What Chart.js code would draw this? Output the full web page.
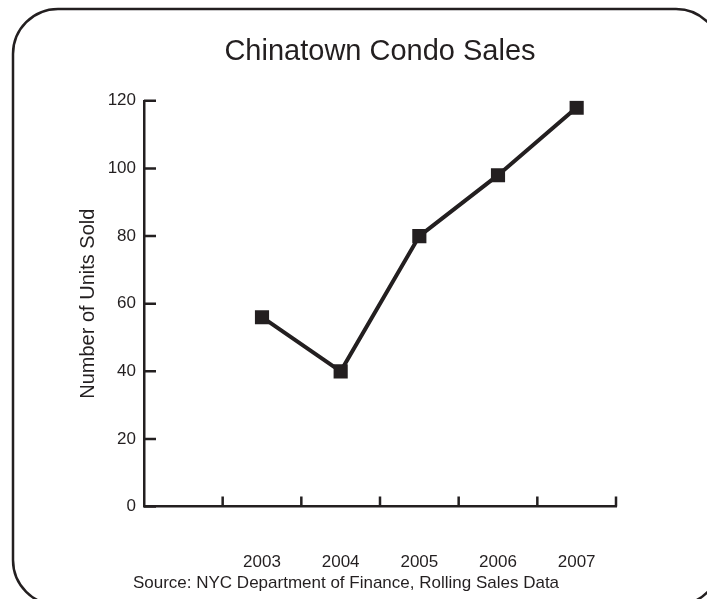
<!DOCTYPE html>
<html>
<head>
<meta charset="utf-8">
<script src="https://cdn.jsdelivr.net/npm/chart.js@4.4.0/dist/chart.umd.min.js"></script>
<style>
  body { margin: 0; background: #fff; }
</style>
</head>
<body>
<canvas id="lineChart" width="707" height="599"></canvas>
<script>
var years = ["", "2003", "2004", "2005", "2006", "2007"];
var unitsSold = [null, 56, 40, 80, 98, 118];
var yTicks = [0, 20, 40, 60, 80, 100, 120];

var ink = "#231f20";
var font = "'Liberation Sans', Arial, sans-serif";

// little tick marks pointing into the plot, plus the rounded frame
var decor = {
  id: "decor",
  afterDraw: function (chart) {
    var c = chart.ctx;
    var x = chart.scales.x;
    var y = chart.scales.y;
    c.save();
    c.strokeStyle = ink;
    c.lineWidth = 2.5;
    c.beginPath();
    for (var i = 0; i < years.length; i++) {
      var px = x.getPixelForValue(i + 0.5);
      c.moveTo(px, y.bottom);
      c.lineTo(px, y.bottom - 10);
    }
    yTicks.forEach(function (v) {
      var py = y.getPixelForValue(v);
      c.moveTo(x.left, py);
      c.lineTo(x.left + 12, py);
    });
    c.stroke();

    c.beginPath();
    c.roundRect(13, 9, 708, 596, 45);
    c.stroke();
    c.restore();
  },
};

var ctx = document.getElementById("lineChart").getContext("2d");
var myChart = new Chart(ctx, {
  type: "line",
  data: {
    labels: years,
    datasets: [
      {
        label: "Number of Units Sold",
        data: unitsSold,
        borderColor: ink,
        backgroundColor: ink,
        borderWidth: 4,
        pointStyle: "rect",
        pointRadius: 10,
        pointBackgroundColor: ink,
        pointBorderWidth: 0,
        tension: 0,
      },
    ],
  },
  options: {
    responsive: false,
    animation: false,
    layout: { padding: { left: 76, right: 91, top: 0, bottom: 0 } },
    plugins: {
      legend: { display: false },
      tooltip: { enabled: false },
      title: {
        display: true,
        fullSize: false,
        text: "Chinatown Condo Sales",
        color: ink,
        font: { family: font, size: 29, weight: "normal" },
        padding: { top: 35, bottom: 31 },
      },
      subtitle: {
        display: true,
        position: "bottom",
        text: "Source: NYC Department of Finance, Rolling Sales Data",
        color: ink,
        font: { family: font, size: 17, weight: "normal" },
        padding: { top: 0, bottom: 5 },
      },
    },
    scales: {
      x: {
        offset: true,
        grid: { display: false, drawTicks: false },
        border: { display: true, color: ink, width: 2.5 },
        ticks: {
          color: ink,
          font: { family: font, size: 17 },
          padding: 46,
          maxRotation: 0,
        },
        afterFit: function (scale) {
          scale.height = 67;
        },
      },
      y: {
        min: 0,
        max: 120,
        afterBuildTicks: function (scale) {
          scale.ticks = yTicks.map(function (v) { return { value: v }; });
        },
        grid: { display: false, drawTicks: false },
        border: { display: true, color: ink, width: 2.5 },
        ticks: {
          color: ink,
          font: { family: font, size: 17 },
          padding: 8,
        },
        title: {
          display: true,
          text: "Number of Units Sold",
          color: ink,
          font: { family: font, size: 20 },
          padding: { top: 0, bottom: 0 },
        },
        afterFit: function (scale) {
          scale.width = 68;
        },
      },
    },
  },
  plugins: [decor],
});
</script>
</body>
</html>
